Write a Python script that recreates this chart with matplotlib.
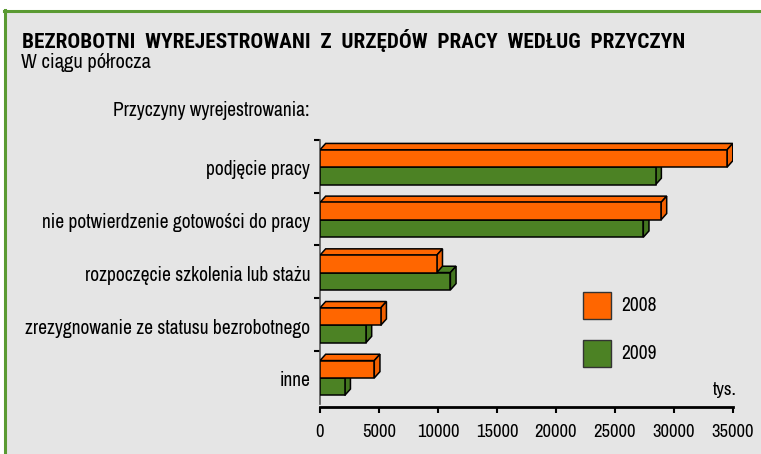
import matplotlib.pyplot as plt
from matplotlib.patches import Polygon, Rectangle

# categories top -> bottom
categories = ['podjęcie pracy',
              'nie potwierdzenie gotowości do pracy',
              'rozpoczęcie szkolenia lub stażu',
              'zrezygnowanie ze statusu bezrobotnego',
              'inne']
v2008 = [34500, 28900, 9900, 5150, 4600]
v2009 = [28450, 27400, 11050, 3900, 2100]
years = ['2008', '2009']
xticks = [0, 5000, 10000, 15000, 20000, 25000, 30000, 35000]

ORANGE = '#ff6600'
ORANGE_SIDE = '#f26000'
GREEN = '#4c8224'
GREEN_SIDE = '#447620'
BG = '#e5e5e5'
FRAME = '#5a9a32'
FONT = ['Archivo Narrow', 'Roboto Condensed', 'DejaVu Sans']
TITLE_FONT = ['Roboto Condensed', 'DejaVu Sans']   # Archivo Narrow has no bold here

plt.rcParams['font.family'] = FONT

W, H = 761, 454
fig = plt.figure(figsize=(W / 100, H / 100), dpi=100)
fig.patch.set_facecolor('white')
renderer = fig.canvas.get_renderer()


def fit_size(s, width_px, **kw):
    # font size that makes string s about width_px wide
    t = fig.text(0, 0, s, fontsize=10, **kw)
    w = t.get_window_extent(renderer).width
    t.remove()
    return 10 * width_px / w


# panel background with green frame (top + left visible)
fig.patches.append(Rectangle((4.5 / W, 0), 1, 1 - 10.5 / H, transform=fig.transFigure,
                             facecolor=BG, edgecolor='none', zorder=-10))
fig.add_artist(plt.Line2D([4.5 / W, 4.5 / W], [0, 1 - 9.5 / H], transform=fig.transFigure,
                          color=FRAME, lw=2.2))
fig.add_artist(plt.Line2D([3.5 / W, 1], [1 - 10.5 / H, 1 - 10.5 / H], transform=fig.transFigure,
                          color=FRAME, lw=2.2))

ax = fig.add_axes([320 / W, (H - 407) / H, 413 / W, 267 / H])
ax.set_facecolor('none')

n = len(categories)
ypos = [n - 1 - i for i in range(n)]
h = 0.33
dx, dy = 480, 0.12


def bar3d(y0, val, face, side):
    top = y0 + h
    ax.add_patch(Polygon([(0, top), (val, top), (val + dx, top + dy), (dx, top + dy)],
                         closed=True, facecolor=face, edgecolor='black', lw=1.1, zorder=3))
    ax.add_patch(Polygon([(val, y0), (val + dx, y0 + dy), (val + dx, top + dy), (val, top)],
                         closed=True, facecolor=side, edgecolor='black', lw=1.1, zorder=3))
    ax.add_patch(Rectangle((0, y0), val, h, facecolor=face, edgecolor='black', lw=1.1, zorder=3))


for y, a, b in zip(ypos, v2008, v2009):
    bar3d(y - 0.345, b, GREEN, GREEN_SIDE)
    bar3d(y - 0.015, a, ORANGE, ORANGE_SIDE)

tick_fs = fit_size('35000', 42)
cat_fs = fit_size(categories[3], 287)

ax.set_xlim(0, 35000)
ax.set_ylim(-0.566, 4.5)
ax.set_xticks(xticks)
ax.set_xticklabels([str(t) for t in xticks], fontsize=tick_fs)
ax.set_yticks([y - 0.03 for y in ypos])
ax.set_yticklabels(categories, fontsize=cat_fs)
ax.tick_params(axis='y', length=0, pad=7)
ax.set_yticks([i + 0.5 for i in range(n)], minor=True)
ax.tick_params(axis='y', which='minor', length=4, width=1.5, direction='out', color='black')
ax.tick_params(axis='x', length=4, width=1.5, direction='out', pad=8)

for s in ['top', 'right']:
    ax.spines[s].set_visible(False)
ax.spines['left'].set_bounds(-0.5, 4.5)
ax.spines['left'].set_color('#555555')
ax.spines['left'].set_linewidth(1.2)
ax.spines['bottom'].set_linewidth(2.0)

# legend
leg_fs = fit_size('2008', 35)
for i, (yr, c) in enumerate(zip(years, [ORANGE, GREEN])):
    ytop = 292 + i * 48
    fig.patches.append(Rectangle((583 / W, (H - ytop - 27) / H), 28 / W, 27 / H,
                                 transform=fig.transFigure, facecolor=c,
                                 edgecolor='#333333', lw=1.0))
    fig.text(621 / W, (H - ytop - 13.5) / H, yr, fontsize=leg_fs, va='center', ha='left')

fig.text(737 / W, (H - 390) / H, 'tys.', fontsize=fit_size('tys.', 24), va='center', ha='right')

title = 'BEZROBOTNI  WYREJESTROWANI  Z  URZĘDÓW  PRACY  WEDŁUG  PRZYCZYN'
title_fs = fit_size(title, 660, fontweight='bold', family=TITLE_FONT)
fig.text(22 / W, (H - 40) / H, title, fontsize=title_fs, fontweight='bold',
         family=TITLE_FONT, va='center', ha='left')
sub = 'W ciągu półrocza'
fig.text(21 / W, (H - 63) / H, sub, fontsize=fit_size(sub, 130), va='center', ha='left')
lab = 'Przyczyny wyrejestrowania:'
fig.text(113 / W, (H - 110) / H, lab, fontsize=fit_size(lab, 198), va='center', ha='left')

fig.savefig('out.png', dpi=100)
